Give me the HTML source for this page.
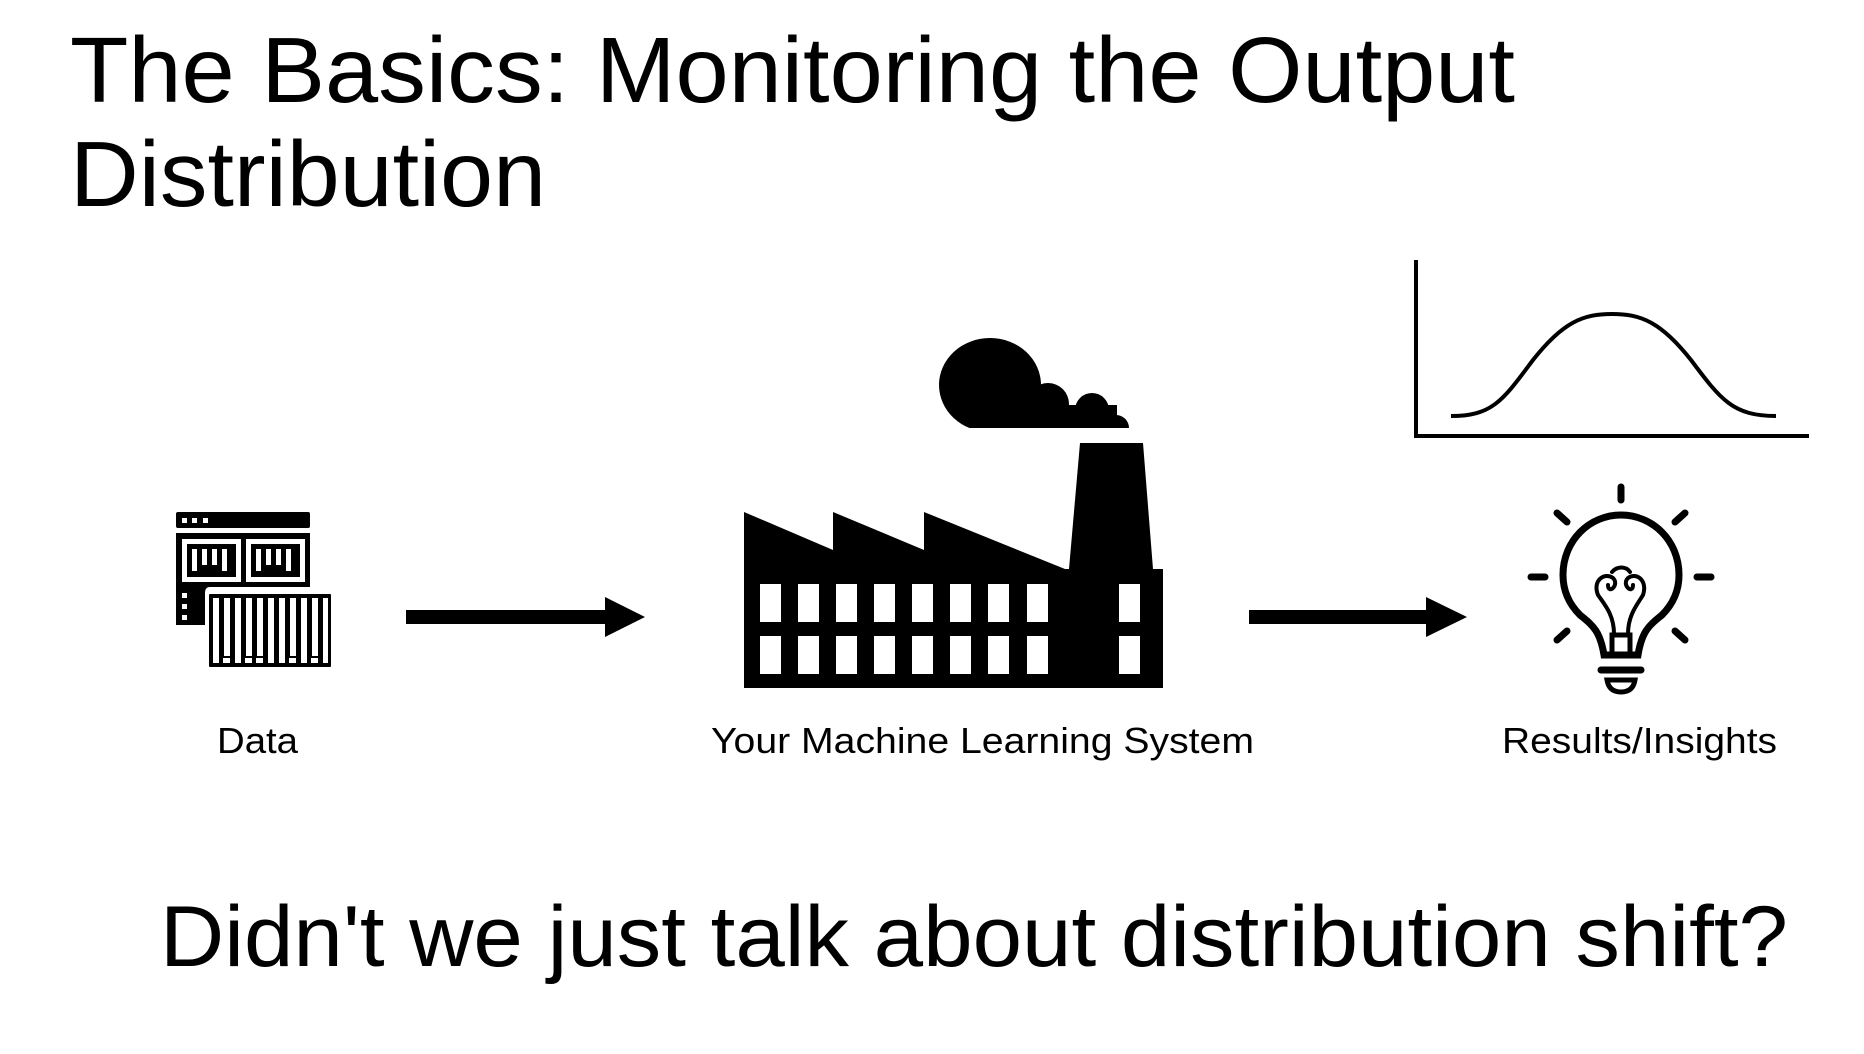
<!DOCTYPE html>
<html><head><meta charset="utf-8"><style>
html,body{margin:0;padding:0;background:#fff;}
svg{display:block;}
text{font-family:"Liberation Sans",Arial,sans-serif;fill:#000;}
</style></head><body>
<svg width="1864" height="1054" viewBox="0 0 1864 1054" xmlns="http://www.w3.org/2000/svg">
<rect width="1864" height="1054" fill="#fff"/>
<text x="70" y="102" font-size="93" textLength="1445" lengthAdjust="spacingAndGlyphs">The Basics: Monitoring the Output</text>
<text x="70" y="206" font-size="93" textLength="476" lengthAdjust="spacingAndGlyphs">Distribution</text>
<text x="160" y="966" font-size="86" textLength="1628" lengthAdjust="spacingAndGlyphs">Didn't we just talk about distribution shift?</text>
<text x="217" y="753" font-size="36" textLength="81" lengthAdjust="spacingAndGlyphs">Data</text>
<text x="711" y="753" font-size="36" textLength="543" lengthAdjust="spacingAndGlyphs">Your Machine Learning System</text>
<text x="1502" y="753" font-size="36" textLength="275" lengthAdjust="spacingAndGlyphs">Results/Insights</text>

<!-- arrows -->
<rect x="406" y="610" width="206" height="14" fill="#000"/>
<polygon points="605,597 645,617 605,637" fill="#000"/>
<rect x="1249" y="610" width="183" height="14" fill="#000"/>
<polygon points="1426,597 1467,617 1426,637" fill="#000"/>

<!-- data icon -->
<rect x="176" y="512" width="134" height="16" rx="2" fill="#000"/>
<rect x="182" y="518" width="5" height="5" fill="#fff"/>
<rect x="192" y="518" width="5" height="5" fill="#fff"/>
<rect x="203" y="518" width="5" height="5" fill="#fff"/>
<path d="M176 533 H310 V587 H210 Q205 587 205 593 V625 H176 Z" fill="#000"/>
<rect x="182" y="539" width="59" height="43" fill="#fff"/>
<rect x="246" y="539" width="59" height="43" fill="#fff"/>
<rect x="187" y="544" width="49" height="33" fill="#000"/>
<rect x="251" y="544" width="49" height="33" fill="#000"/>
<g fill="#fff">
<rect x="192" y="549" width="5" height="22"/><rect x="202" y="549" width="5" height="16"/><rect x="212" y="549" width="5" height="16"/><rect x="222" y="549" width="5" height="22"/>
<rect x="256" y="549" width="5" height="22"/><rect x="266" y="549" width="5" height="16"/><rect x="276" y="549" width="5" height="16"/><rect x="286" y="549" width="5" height="22"/>
<rect x="182" y="593" width="5" height="5"/><rect x="182" y="604" width="5" height="5"/><rect x="182" y="615" width="5" height="5"/>
</g>
<rect x="208" y="593" width="124" height="75" rx="2" fill="#000" stroke="#fff" stroke-width="2"/>
<g fill="#fff">
<rect x="213" y="598" width="6" height="65"/><rect x="224" y="598" width="6" height="58"/><rect x="235" y="598" width="6" height="65"/><rect x="246" y="598" width="6" height="58"/><rect x="257" y="598" width="6" height="58"/><rect x="268" y="598" width="6" height="65"/><rect x="279" y="598" width="6" height="65"/><rect x="290" y="598" width="6" height="58"/><rect x="301" y="598" width="6" height="65"/><rect x="312" y="598" width="6" height="58"/><rect x="323" y="598" width="5" height="65"/>
<rect x="223" y="658" width="7" height="5"/><rect x="245" y="658" width="7" height="5"/><rect x="256" y="658" width="7" height="5"/><rect x="289" y="658" width="7" height="5"/><rect x="311" y="658" width="7" height="5"/>
</g>

<!-- factory -->
<clipPath id="cc"><rect x="900" y="300" width="300" height="128"/></clipPath>
<g clip-path="url(#cc)" fill="#000">
<ellipse cx="990" cy="385" rx="51" ry="47"/>
<circle cx="1048" cy="404" r="21"/>
<circle cx="1092" cy="410" r="17"/>
<circle cx="1116" cy="428" r="13"/>
<rect x="990" y="405" width="127" height="23"/>
</g>
<path d="M744 512 L833 550 L833 512 L924 550 L924 512 L1065 569 L1069 569 L1080 443 L1143 443 L1153 569 L1163 569 L1163 688 L744 688 Z" fill="#000"/>
<g fill="#fff">
<rect x="760" y="584" width="21" height="38"/><rect x="798" y="584" width="21" height="38"/><rect x="836" y="584" width="21" height="38"/><rect x="874" y="584" width="21" height="38"/><rect x="912" y="584" width="21" height="38"/><rect x="950" y="584" width="21" height="38"/><rect x="988" y="584" width="21" height="38"/><rect x="1027" y="584" width="21" height="38"/><rect x="1119" y="584" width="21" height="38"/>
<rect x="760" y="636" width="21" height="38"/><rect x="798" y="636" width="21" height="38"/><rect x="836" y="636" width="21" height="38"/><rect x="874" y="636" width="21" height="38"/><rect x="912" y="636" width="21" height="38"/><rect x="950" y="636" width="21" height="38"/><rect x="988" y="636" width="21" height="38"/><rect x="1027" y="636" width="21" height="38"/><rect x="1119" y="636" width="21" height="38"/>
</g>

<!-- chart -->
<line x1="1416" y1="260" x2="1416" y2="438" stroke="#000" stroke-width="4"/>
<line x1="1414" y1="436" x2="1809" y2="436" stroke="#000" stroke-width="4"/>
<path d="M1451 416 C1493 416 1503 400 1533 360 C1563 322 1583 314 1612 314 C1641 314 1661 322 1691 360 C1721 400 1733 416 1776 416" fill="none" stroke="#000" stroke-width="4"/>

<!-- bulb -->
<g stroke="#000" stroke-width="7" stroke-linecap="round" fill="none">
<line x1="1621" y1="487" x2="1621" y2="500"/>
<line x1="1557" y1="513" x2="1567" y2="522"/>
<line x1="1685" y1="513" x2="1675" y2="522"/>
<line x1="1531" y1="577" x2="1545" y2="577"/>
<line x1="1697" y1="577" x2="1711" y2="577"/>
<line x1="1557" y1="640" x2="1567" y2="631"/>
<line x1="1685" y1="640" x2="1675" y2="631"/>
<path d="M1604 655 C1600 630 1592 625 1580 615 C1568 603 1563 590 1563 575 C1563 540 1590 515 1621 515 C1652 515 1679 540 1679 575 C1679 590 1674 603 1662 615 C1650 625 1642 630 1638 655 Z" stroke-width="7"/>
<line x1="1601" y1="670" x2="1641" y2="670"/>
<path d="M1607 680 H1635 Q1633 692 1621 692 Q1609 692 1607 680 Z" stroke-width="5"/>
<path d="M1612 654 V635 H1630 V654" stroke-width="5"/>
<path d="M1614 634 C1614 615 1605 605 1598 595 C1592 580 1605 572 1613 578 C1620 585 1608 595 1608 585 M1628 634 C1628 615 1637 605 1643 595 C1648 580 1636 572 1628 578 C1621 585 1633 595 1633 585 M1612 572 C1617 566 1626 566 1630 572" stroke-width="4"/>
</g>
</svg>
</body></html>
